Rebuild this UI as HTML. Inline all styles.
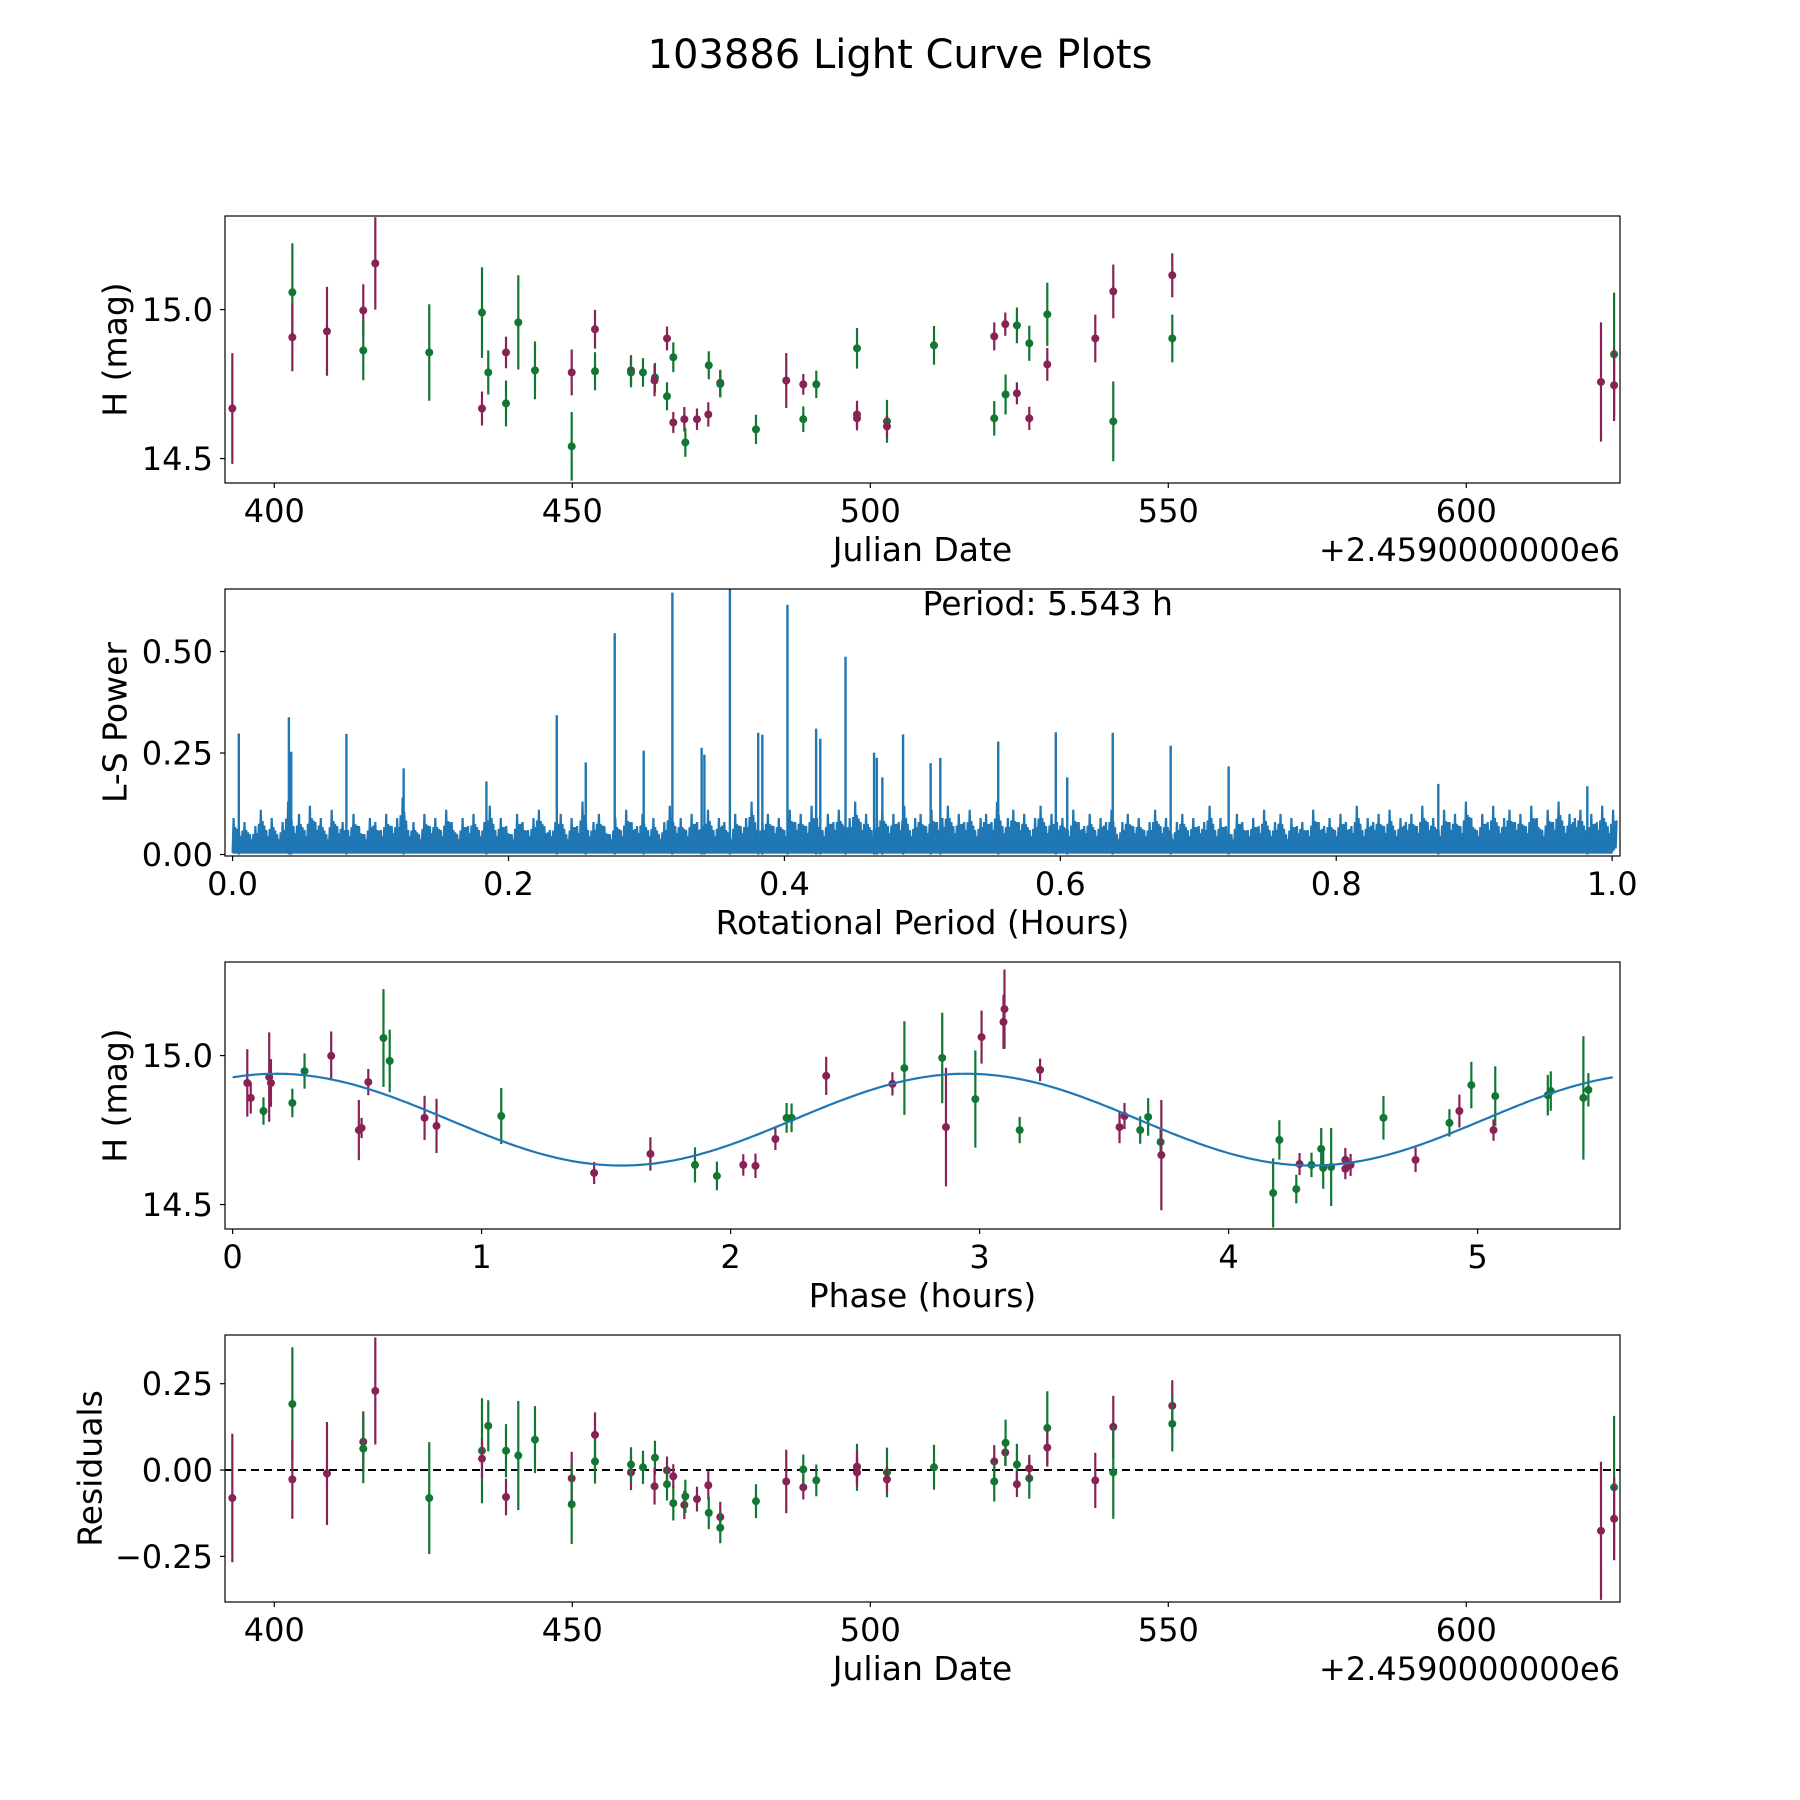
<!DOCTYPE html>
<html><head><meta charset="utf-8"><style>
html,body{margin:0;padding:0;background:#fff;}
svg{display:block;font-family:"DejaVu Sans","Liberation Sans",sans-serif;}
</style></head><body>
<svg id="fig" width="1800" height="1800" viewBox="0 0 1800 1800" xmlns="http://www.w3.org/2000/svg">
<rect width="1800" height="1800" fill="#fff"/>
<text x="900" y="68" text-anchor="middle" font-size="40" fill="#000">103886 Light Curve Plots</text>
<g id="g1"></g>
<g id="g2"></g>
<g id="g3"></g>
<g id="g4"></g>
</svg>
<script>
// ---- light curve data (Julian date offset, H mag, error, band, residual) ----
const dates = [392.96,403.03,403.03,408.84,414.93,414.93,416.95,426.0,434.85,434.85,435.9,438.88,438.88,440.94,443.74,449.9,449.9,453.81,453.81,459.85,459.85,461.86,463.87,463.8,465.89,466.95,465.89,466.95,468.8,468.97,470.92,472.82,472.9,474.83,474.83,480.82,485.9,488.76,488.76,490.94,497.77,497.77,497.77,502.8,502.8,510.69,520.8,520.8,522.65,522.7,524.6,524.6,526.68,526.68,529.7,529.7,537.75,540.77,540.77,550.67,550.67,622.6,624.8,624.8];
const mags = [14.668,15.058,14.907,14.927,14.997,14.863,15.155,14.856,14.990,14.668,14.789,14.856,14.685,14.957,14.796,14.789,14.541,14.934,14.793,14.796,14.789,14.789,14.772,14.762,14.903,14.840,14.709,14.621,14.632,14.554,14.632,14.648,14.813,14.754,14.750,14.598,14.762,14.749,14.632,14.749,14.870,14.648,14.635,14.625,14.608,14.880,14.910,14.635,14.951,14.715,14.947,14.719,14.887,14.635,14.984,14.816,14.903,15.061,14.625,15.115,14.903,14.757,14.850,14.746];
const errs = [0.186,0.164,0.114,0.149,0.088,0.100,0.155,0.162,0.152,0.057,0.074,0.053,0.077,0.158,0.097,0.077,0.115,0.065,0.064,0.051,0.050,0.048,0.049,0.053,0.040,0.050,0.047,0.035,0.041,0.048,0.036,0.041,0.047,0.044,0.045,0.049,0.092,0.035,0.043,0.046,0.068,0.046,0.040,0.072,0.037,0.065,0.047,0.058,0.039,0.067,0.060,0.037,0.059,0.039,0.106,0.055,0.080,0.090,0.134,0.074,0.080,0.200,0.207,0.120];
const bands = ["M","G","M","M","M","G","M","G","G","M","G","M","G","G","G","M","G","M","G","M","G","G","G","M","M","G","G","M","M","G","M","M","G","M","G","G","M","M","G","G","G","M","M","G","M","G","M","G","M","G","G","M","G","M","G","M","M","M","G","M","G","M","G","M"];
const resids = [-0.081,0.191,-0.027,-0.010,0.082,0.062,0.229,-0.081,0.056,0.033,0.128,-0.078,0.056,0.042,0.088,-0.024,-0.099,0.102,0.025,-0.007,0.016,0.008,0.036,-0.047,-0.001,-0.096,-0.041,-0.018,-0.101,-0.076,-0.084,-0.044,-0.124,-0.136,-0.167,-0.090,-0.033,-0.050,0.002,-0.030,0.008,0.010,-0.007,-0.007,-0.027,0.008,0.025,-0.033,0.051,0.079,0.016,-0.041,-0.024,0.005,0.122,0.065,-0.030,0.125,-0.007,0.186,0.134,-0.176,-0.050,-0.141];
// ---- phase-folded data ----
const phases = [0.059,0.073,0.124,0.147,0.154,0.240,0.289,0.396,0.507,0.518,0.545,0.606,0.631,0.771,0.819,1.079,1.452,1.678,1.857,1.945,2.051,2.100,2.180,2.225,2.245,2.384,2.650,2.698,2.850,2.865,3.008,2.983,3.096,3.100,3.161,3.243,3.562,3.582,3.645,3.677,3.727,3.730,4.179,4.204,4.272,4.285,4.333,4.372,4.380,4.412,4.469,4.469,4.490,4.622,4.751,4.887,4.927,4.975,5.071,5.064,5.282,5.294,5.425,5.445];
const phaseMags = [14.908,14.858,14.814,14.928,14.908,14.841,14.948,14.999,14.750,14.757,14.911,15.059,14.982,14.791,14.764,14.797,14.606,14.670,14.633,14.596,14.633,14.630,14.720,14.791,14.791,14.932,14.905,14.958,14.992,14.760,15.062,14.854,15.113,15.156,14.750,14.952,14.760,14.797,14.750,14.794,14.710,14.666,14.539,14.717,14.552,14.636,14.633,14.687,14.623,14.626,14.650,14.620,14.633,14.791,14.650,14.774,14.814,14.901,14.864,14.750,14.867,14.881,14.858,14.885];
const phaseErrs = [0.113,0.053,0.046,0.150,0.080,0.048,0.059,0.082,0.101,0.034,0.044,0.164,0.105,0.074,0.091,0.094,0.037,0.056,0.059,0.048,0.036,0.041,0.037,0.050,0.048,0.064,0.039,0.157,0.152,0.199,0.089,0.163,0.091,0.133,0.044,0.038,0.054,0.044,0.046,0.063,0.045,0.185,0.116,0.066,0.048,0.037,0.041,0.070,0.070,0.131,0.040,0.035,0.037,0.073,0.041,0.046,0.055,0.078,0.100,0.036,0.068,0.066,0.207,0.056];
const phaseBands = ["M","M","G","M","M","G","G","M","M","M","M","G","G","M","M","G","M","M","G","G","M","M","M","G","G","M","M","G","G","M","M","G","M","M","G","M","M","M","G","G","G","M","G","G","G","M","G","G","G","G","M","M","M","G","M","G","M","G","G","M","G","G","G","G"];
// fitted model parameters
const modelMean = 14.785;
const modelAmp = 0.154;
const modelPeakPhase = 0.175;
const modelHalfPeriod = 2.7715;
const rotPeriod = 5.543;
// ---- periodogram ----
const peakPeriods = [0.0045,0.0408,0.0425,0.0825,0.124,0.184,0.235,0.256,0.277,0.298,0.3188,0.340,0.342,0.3605,0.381,0.384,0.4022,0.423,0.426,0.4443,0.465,0.467,0.471,0.486,0.506,0.513,0.555,0.5967,0.605,0.638,0.680,0.722,0.874,0.982];
const peakPowers = [0.298,0.338,0.253,0.297,0.212,0.180,0.343,0.227,0.545,0.256,0.645,0.263,0.246,0.660,0.300,0.295,0.615,0.310,0.285,0.487,0.251,0.238,0.190,0.296,0.225,0.238,0.278,0.301,0.190,0.300,0.268,0.217,0.174,0.168];
const noisePowers = [0.09,0.06,0.08,0.05,0.07,0.11,0.06,0.09,0.05,0.08,0.13,0.07,0.10,0.06,0.12,0.08,0.09,0.05,0.11,0.07,0.08,0.06,0.10,0.07,0.05,0.09,0.08,0.06,0.10,0.07,0.09,0.14,0.06,0.08,0.05,0.10,0.07,0.09,0.06,0.11,0.08,0.05,0.09,0.07,0.10,0.06,0.08,0.12,0.06,0.09,0.07,0.05,0.10,0.08,0.06,0.09,0.11,0.07,0.06,0.08,0.10,0.05,0.09,0.07,0.13,0.06,0.08,0.10,0.07,0.05,0.09,0.06,0.11,0.08,0.07,0.10,0.06,0.09,0.05,0.08,0.12,0.07,0.09,0.06,0.10,0.08,0.07,0.11,0.06,0.09,0.08,0.05,0.10,0.07,0.09,0.13,0.06,0.08,0.10,0.07,0.09,0.06,0.11,0.08,0.10,0.07,0.12,0.09,0.06,0.10,0.08,0.11,0.07,0.09,0.13,0.08,0.10,0.06,0.09,0.11,0.07,0.10,0.08,0.12,0.06,0.09,0.10,0.07,0.11,0.08,0.09,0.12,0.07,0.10,0.08,0.11,0.06,0.09,0.10,0.08,0.13,0.07,0.09,0.11,0.08,0.10,0.06,0.09,0.12,0.07,0.10,0.08,0.09,0.06,0.11,0.08,0.07,0.10,0.06,0.09,0.08,0.11,0.05,0.08,0.10,0.07,0.09,0.06,0.08,0.11,0.07,0.09,0.05,0.08,0.10,0.06,0.09,0.07,0.08,0.12,0.06,0.09,0.07,0.05,0.10,0.08,0.06,0.09,0.07,0.11,0.06,0.08,0.10,0.05,0.09,0.07,0.08,0.06,0.11,0.08,0.07,0.09,0.06,0.10,0.08,0.07,0.12,0.06,0.09,0.08,0.10,0.07,0.11,0.06,0.09,0.08,0.10,0.07,0.12,0.08,0.09,0.06,0.11,0.08,0.10,0.07,0.13,0.09,0.06,0.10,0.08,0.12,0.07,0.09,0.11,0.08,0.10,0.07,0.12,0.09,0.06,0.11,0.08,0.13,0.07,0.10,0.09,0.11,0.06,0.10,0.08,0.12,0.07,0.11];
// ---- tick labels ----
const dateTicks = [400,450,500,550,600];
const magTicks = [14.5,15.0];
const magTickLabels = ["14.5","15.0"];
const powerTicks = [0,0.25,0.5];
const powerTickLabels = ["0.00","0.25","0.50"];
const periodTicks = [0,0.2,0.4,0.6,0.8,1.0];
const periodTickLabels = ["0.0","0.2","0.4","0.6","0.8","1.0"];
const phaseTicks = [0,1,2,3,4,5];
const residTicks = [-0.25,0,0.25];
const residTickLabels = ["\u22120.25","0.00","0.25"];

const NS = "http://www.w3.org/2000/svg";
const COL = {M:"#882255", G:"#117733"};
const L = 225, R = 1620;
function lin(d0,d1,r0,r1){return v => r0 + (v-d0)/(d1-d0)*(r1-r0);}
function mk(parent, tag, attrs){const e=document.createElementNS(NS,tag);for(const k in attrs)e.setAttribute(k,attrs[k]);parent.appendChild(e);return e;}

function frame(g, top, bot, name){
  const r = mk(g,"rect",{x:L,y:top,width:R-L,height:bot-top,fill:"none",stroke:"#000","stroke-width":1.2});
  
  
}
function xticks(g, ticks, labels, sx, bot, name){
  ticks.forEach((t,i)=>{
    const x=sx(t);
    const l=mk(g,"line",{x1:x,x2:x,y1:bot,y2:bot+5,stroke:"#000","stroke-width":1.2});
    
    
    const tx=mk(g,"text",{x:x,y:bot+39,"text-anchor":"middle","font-size":32});
    tx.textContent=labels[i];
    
    
  });
}
function yticks(g, ticks, labels, sy, name){
  ticks.forEach((t,i)=>{
    const y=sy(t);
    const l=mk(g,"line",{x1:L-5,x2:L,y1:y,y2:y,stroke:"#000","stroke-width":1.2});
    
    
    const tx=mk(g,"text",{x:L-12,y:y+11.5,"text-anchor":"end","font-size":32});
    tx.textContent=labels[i];
    
    
  });
}
function label(g, text, x, y, rot, name){
  const t=mk(g,"text",{x:x,y:y,"text-anchor":"middle","font-size":33,"dominant-baseline":rot?"central":"auto"});
  if(rot) t.setAttribute("transform","rotate(-90 "+x+" "+y+")");
  t.textContent=text;
  
  
}
function errPoints(g, xs, ys, es, bs, sx, sy, name){
  xs.forEach((xv,i)=>{
    const x=sx(xv);
    const l=mk(g,"line",{x1:x,x2:x,y1:sy(ys[i]+es[i]),y2:sy(ys[i]-es[i]),stroke:COL[bs[i]],"stroke-width":2.2});
    
    
    const c=mk(g,"circle",{cx:x,cy:sy(ys[i]),r:4,fill:COL[bs[i]]});
    
    
  });
}

// ---- Panel 1 ----
(function(){
  const g=document.getElementById("g1");
  const top=216, bot=483;
  const sx=lin(391.73,625.79,L,R), sy=lin(14.418,15.314,bot,top);
  const cp=mk(g,"clipPath",{id:"c1"}); mk(cp,"rect",{x:L,y:top,width:R-L,height:bot-top});
  const pg=mk(g,"g",{"clip-path":"url(#c1)"});
  
  
  errPoints(pg,dates,mags,errs,bands,sx,sy,"lc");
  frame(g,top,bot,"light-curve");
  xticks(g,dateTicks,dateTicks.map(String),sx,bot,"lc");
  yticks(g,magTicks,magTickLabels,sy,"lc");
  label(g,"Julian Date",(L+R)/2,bot+78,false,"lc-x-axis-title");
  const off=mk(g,"text",{x:R,y:bot+78,"text-anchor":"end","font-size":32}); off.textContent="+2.4590000000e6";
  
  
  label(g,"H (mag)",115,(top+bot)/2,true,"lc-y-axis-title");
})();

// ---- Panel 2 ----
(function(){
  const g=document.getElementById("g2");
  const top=589, bot=856;
  const sx=lin(-0.0055,1.0057,L,R), sy=lin(-0.0037,0.654,bot,top);
  const cp=mk(g,"clipPath",{id:"c2"}); mk(cp,"rect",{x:L,y:top,width:R-L,height:bot-top});
  const pg=mk(g,"g",{"clip-path":"url(#c2)"});
  const n=noisePowers.length, dx=1/(n-1);
  let pts=[];
  noisePowers.forEach((v,i)=>{
    const p=i*dx;
    const vn=noisePowers[(i+1)%n];
    pts.push(sx(p).toFixed(1)+","+sy(0.004).toFixed(1));
    pts.push(sx(p+dx*0.18).toFixed(1)+","+sy(v).toFixed(1));
    pts.push(sx(p+dx*0.34).toFixed(1)+","+sy(0.01).toFixed(1));
    pts.push(sx(p+dx*0.5).toFixed(1)+","+sy(v*0.75).toFixed(1));
    pts.push(sx(p+dx*0.66).toFixed(1)+","+sy(0.015).toFixed(1));
    pts.push(sx(p+dx*0.82).toFixed(1)+","+sy((v+vn)*0.42).toFixed(1));
  });
  const pl=mk(pg,"polyline",{points:pts.join(" "),fill:"none",stroke:"#1f77b4","stroke-width":2.2,"stroke-linejoin":"miter"});
  
  
  const base=mk(pg,"rect",{x:sx(0),y:sy(0.035),width:sx(1)-sx(0),height:sy(0.002)-sy(0.035),fill:"#1f77b4"});
  
  
  peakPeriods.forEach((p,i)=>{
    const l=mk(pg,"line",{x1:sx(p),x2:sx(p),y1:sy(0),y2:sy(peakPowers[i]),stroke:"#1f77b4","stroke-width":2.4});
    
    
  });
  frame(g,top,bot,"periodogram");
  xticks(g,periodTicks,periodTickLabels,sx,bot,"pg");
  yticks(g,powerTicks,powerTickLabels,sy,"pg");
  label(g,"Rotational Period (Hours)",(L+R)/2,bot+78,false,"pg-x-axis-title");
  label(g,"L-S Power",115,(top+bot)/2,true,"pg-y-axis-title");
  const t=mk(g,"text",{x:(L+R)/2,y:615,"text-anchor":"start","font-size":33}); t.textContent="Period: "+rotPeriod.toFixed(3)+" h";
  
  
})();

// ---- Panel 3 ----
(function(){
  const g=document.getElementById("g3");
  const top=962, bot=1229;
  const sx=lin(-0.0305,5.572,L,R), sy=lin(14.418,15.314,bot,top);
  const cp=mk(g,"clipPath",{id:"c3"}); mk(cp,"rect",{x:L,y:top,width:R-L,height:bot-top});
  const pg=mk(g,"g",{"clip-path":"url(#c3)"});
  errPoints(pg,phases,phaseMags,phaseErrs,phaseBands,sx,sy,"phase");
  let pts=[];
  for(let k=0;k<=400;k++){
    const p=rotPeriod*k/400;
    const m=modelMean+modelAmp*Math.cos(2*Math.PI*(p-modelPeakPhase)/modelHalfPeriod);
    pts.push(sx(p).toFixed(1)+","+sy(m).toFixed(1));
  }
  const pl=mk(pg,"polyline",{points:pts.join(" "),fill:"none",stroke:"#1f77b4","stroke-width":2.2});
  
  
  frame(g,top,bot,"phase");
  xticks(g,phaseTicks,phaseTicks.map(String),sx,bot,"phase");
  yticks(g,magTicks,magTickLabels,sy,"phase");
  label(g,"Phase (hours)",(L+R)/2,bot+78,false,"phase-x-axis-title");
  label(g,"H (mag)",115,(top+bot)/2,true,"phase-y-axis-title");
})();

// ---- Panel 4 ----
(function(){
  const g=document.getElementById("g4");
  const top=1335, bot=1602;
  const sx=lin(391.73,625.79,L,R), sy=lin(-0.382,0.391,bot,top);
  const cp=mk(g,"clipPath",{id:"c4"}); mk(cp,"rect",{x:L,y:top,width:R-L,height:bot-top});
  const pg=mk(g,"g",{"clip-path":"url(#c4)"});
  const zl=mk(pg,"line",{x1:L,x2:R,y1:sy(0),y2:sy(0),stroke:"#000","stroke-width":2,"stroke-dasharray":"8,5"});
  
  
  errPoints(pg,dates,resids,errs,bands,sx,sy,"resid");
  frame(g,top,bot,"residuals");
  xticks(g,dateTicks,dateTicks.map(String),sx,bot,"resid");
  yticks(g,residTicks,residTickLabels,sy,"resid");
  label(g,"Julian Date",(L+R)/2,bot+78,false,"resid-x-axis-title");
  const off=mk(g,"text",{x:R,y:bot+78,"text-anchor":"end","font-size":32}); off.textContent="+2.4590000000e6";
  
  
  label(g,"Residuals",90,(top+bot)/2,true,"resid-y-axis-title");
})();
</script>
</body></html>
